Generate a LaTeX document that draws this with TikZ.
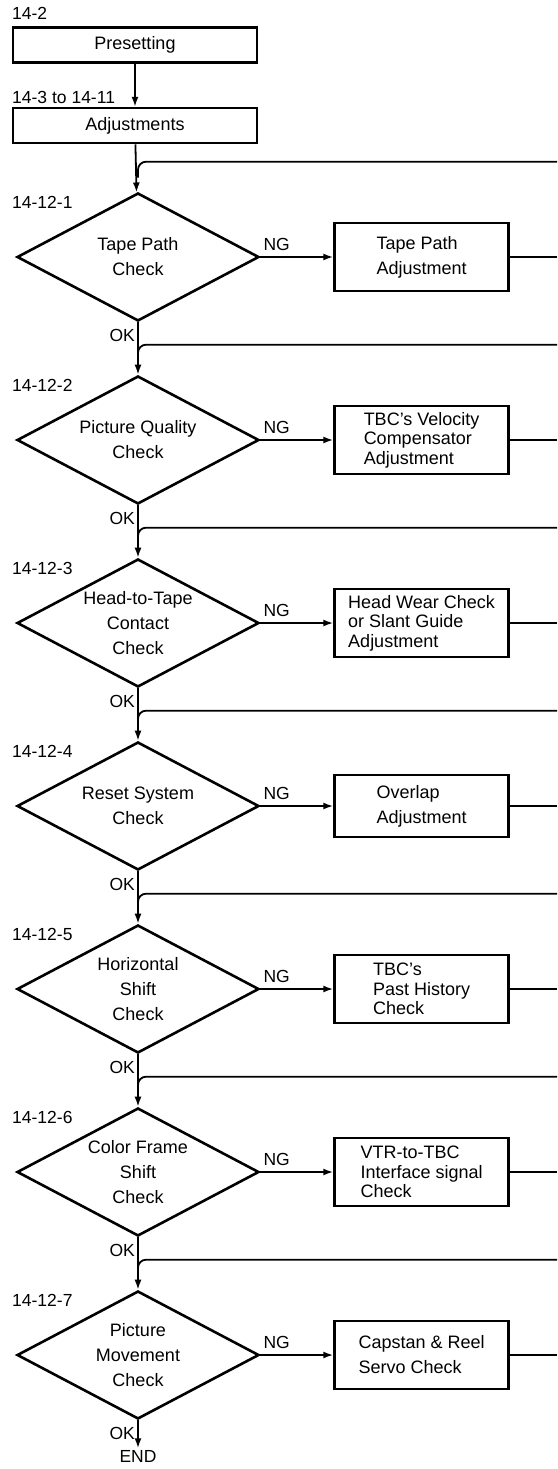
\documentclass[tikz,border=0pt]{standalone}
\usepackage{fontspec}
\setmainfont{Liberation Sans}
\usepackage{tikz}
\usetikzlibrary{arrows.meta,positioning,shapes.geometric}
\newcommand{\boxfont}{\fontsize{18}{25}\selectfont}
\newcommand{\tightfont}{\fontsize{18}{19.5}\selectfont}
\newcommand{\tagfont}{\fontsize{17.5}{20}\selectfont}

\begin{document}
\begin{tikzpicture}[
  x=1pt,y=1pt,
  node distance=55pt and 73pt,
  stepbox/.style={draw,line width=2.6pt,minimum width=244pt,minimum height=35pt,inner sep=0pt,font=\boxfont},
  check/.style={draw,diamond,aspect=1.9,line width=2.6pt,minimum width=242pt,minimum height=128pt,inner sep=-6pt,align=center,font=\boxfont},
  fix/.style={draw,line width=2.6pt,minimum width=174pt,minimum height=68pt,inner sep=2pt,align=left,font=\boxfont},
  tight/.style={font=\tightfont},
  tag/.style={font=\tagfont,inner sep=0pt},
  arrow/.style={-{Latex[length=10pt,width=7pt]},line width=1.8pt},
  flow/.style={line width=1.8pt}
]
\useasboundingbox (0,0) rectangle (557,-1469);
\coordinate (edge) at (557,0);
\node[tag,anchor=west] (t0) at (12,-13) {14-2};
\node[stepbox] (preset) at (135,-45) {Presetting};
\node[stepbox,below=43pt of preset] (adjust) {Adjustments};
\node[tag,anchor=west] (t00) at (12,-97) {14-3 to 14-11};
\node[check] (d1) at (138,-257) {Tape Path\\Check};
\node[check] (d2) at (138,-440) {Picture Quality\\Check};
\node[check] (d3) at (138,-623) {Head-to-Tape\\Contact\\Check};
\node[check] (d4) at (138,-806) {Reset System\\Check};
\node[check] (d5) at (138,-989) {Horizontal\\Shift\\Check};
\node[check] (d6) at (138,-1172) {Color Frame\\Shift\\Check};
\node[check] (d7) at (138,-1355) {Picture\\Movement\\Check};
\node[tag,inner sep=2pt,below=28pt of d7] (end) {END};
% step numbers
\node[tag,anchor=west] (t1) at (12,-202) {14-12-1};
\node[tag,anchor=west] (t2) at (12,-385) {14-12-2};
\node[tag,anchor=west] (t3) at (12,-568) {14-12-3};
\node[tag,anchor=west] (t4) at (12,-751) {14-12-4};
\node[tag,anchor=west] (t5) at (12,-934) {14-12-5};
\node[tag,anchor=west] (t6) at (12,-1117) {14-12-6};
\node[tag,anchor=west] (t7) at (12,-1300) {14-12-7};
% remedies
\node[fix,right=of d1] (b1) {Tape Path\\Adjustment};
\node[fix,tight,right=of d2] (b2) {TBC's Velocity\\Compensator\\Adjustment};
\node[fix,tight,right=of d3] (b3) {Head Wear Check\\or Slant Guide\\Adjustment};
\node[fix,minimum height=62pt,right=of d4] (b4) {Overlap\\Adjustment};
\node[fix,tight,right=of d5] (b5) {TBC's\\Past History\\Check};
\node[fix,tight,right=of d6] (b6) {VTR-to-TBC\\Interface signal\\Check};
\node[fix,right=of d7] (b7) {Capstan \& Reel\\Servo Check};
% OK / NG
\node[tag,anchor=east] (ok1) at ([xshift=-3pt,yshift=-13pt]d1.south) {OK};
\node[tag,anchor=east] (ok2) at ([xshift=-3pt,yshift=-13pt]d2.south) {OK};
\node[tag,anchor=east] (ok3) at ([xshift=-3pt,yshift=-13pt]d3.south) {OK};
\node[tag,anchor=east] (ok4) at ([xshift=-3pt,yshift=-13pt]d4.south) {OK};
\node[tag,anchor=east] (ok5) at ([xshift=-3pt,yshift=-13pt]d5.south) {OK};
\node[tag,anchor=east] (ok6) at ([xshift=-3pt,yshift=-13pt]d6.south) {OK};
\node[tag,anchor=east] (ok7) at ([xshift=-3pt,yshift=-13pt]d7.south) {OK};
\node[tag,anchor=south west] (ng1) at ([xshift=3pt,yshift=6pt]d1.east) {NG};
\node[tag,anchor=south west] (ng2) at ([xshift=3pt,yshift=6pt]d2.east) {NG};
\node[tag,anchor=south west] (ng3) at ([xshift=3pt,yshift=6pt]d3.east) {NG};
\node[tag,anchor=south west] (ng4) at ([xshift=3pt,yshift=6pt]d4.east) {NG};
\node[tag,anchor=south west] (ng5) at ([xshift=3pt,yshift=6pt]d5.east) {NG};
\node[tag,anchor=south west] (ng6) at ([xshift=3pt,yshift=6pt]d6.east) {NG};
\node[tag,anchor=south west] (ng7) at ([xshift=3pt,yshift=6pt]d7.east) {NG};
% main line
\draw[arrow] (preset) -- (adjust);
\draw[arrow] (adjust) -- (d1);
\draw[arrow] (d1) -- (d2);
\draw[arrow] (d2) -- (d3);
\draw[arrow] (d3) -- (d4);
\draw[arrow] (d4) -- (d5);
\draw[arrow] (d5) -- (d6);
\draw[arrow] (d6) -- (d7);
\draw[arrow] (d7) -- (end);
\draw[arrow] (d1) -- (b1);
\draw[arrow] (d2) -- (b2);
\draw[arrow] (d3) -- (b3);
\draw[arrow] (d4) -- (b4);
\draw[arrow] (d5) -- (b5);
\draw[arrow] (d6) -- (b6);
\draw[arrow] (d7) -- (b7);
% returns
\draw[flow] (b1.east) -- (b1.east -| edge);
\draw[flow] (b2.east) -- (b2.east -| edge);
\draw[flow] (b3.east) -- (b3.east -| edge);
\draw[flow] (b4.east) -- (b4.east -| edge);
\draw[flow] (b5.east) -- (b5.east -| edge);
\draw[flow] (b6.east) -- (b6.east -| edge);
\draw[flow] (b7.east) -- (b7.east -| edge);
\coordinate (f1) at ([yshift=30pt]d1.north); \coordinate (j1) at ([yshift=14pt]d1.north);
\coordinate (f2) at ([yshift=30pt]d2.north); \coordinate (j2) at ([yshift=14pt]d2.north);
\coordinate (f3) at ([yshift=30pt]d3.north); \coordinate (j3) at ([yshift=14pt]d3.north);
\coordinate (f4) at ([yshift=30pt]d4.north); \coordinate (j4) at ([yshift=14pt]d4.north);
\coordinate (f5) at ([yshift=30pt]d5.north); \coordinate (j5) at ([yshift=14pt]d5.north);
\coordinate (f6) at ([yshift=30pt]d6.north); \coordinate (j6) at ([yshift=14pt]d6.north);
\coordinate (f7) at ([yshift=30pt]d7.north); \coordinate (j7) at ([yshift=14pt]d7.north);
\draw[flow,rounded corners=8pt] (f1 -| edge) -- (f1) -- (j1);
\draw[flow,rounded corners=8pt] (f2 -| edge) -- (f2) -- (j2);
\draw[flow,rounded corners=8pt] (f3 -| edge) -- (f3) -- (j3);
\draw[flow,rounded corners=8pt] (f4 -| edge) -- (f4) -- (j4);
\draw[flow,rounded corners=8pt] (f5 -| edge) -- (f5) -- (j5);
\draw[flow,rounded corners=8pt] (f6 -| edge) -- (f6) -- (j6);
\draw[flow,rounded corners=8pt] (f7 -| edge) -- (f7) -- (j7);
\end{tikzpicture}
\end{document}
